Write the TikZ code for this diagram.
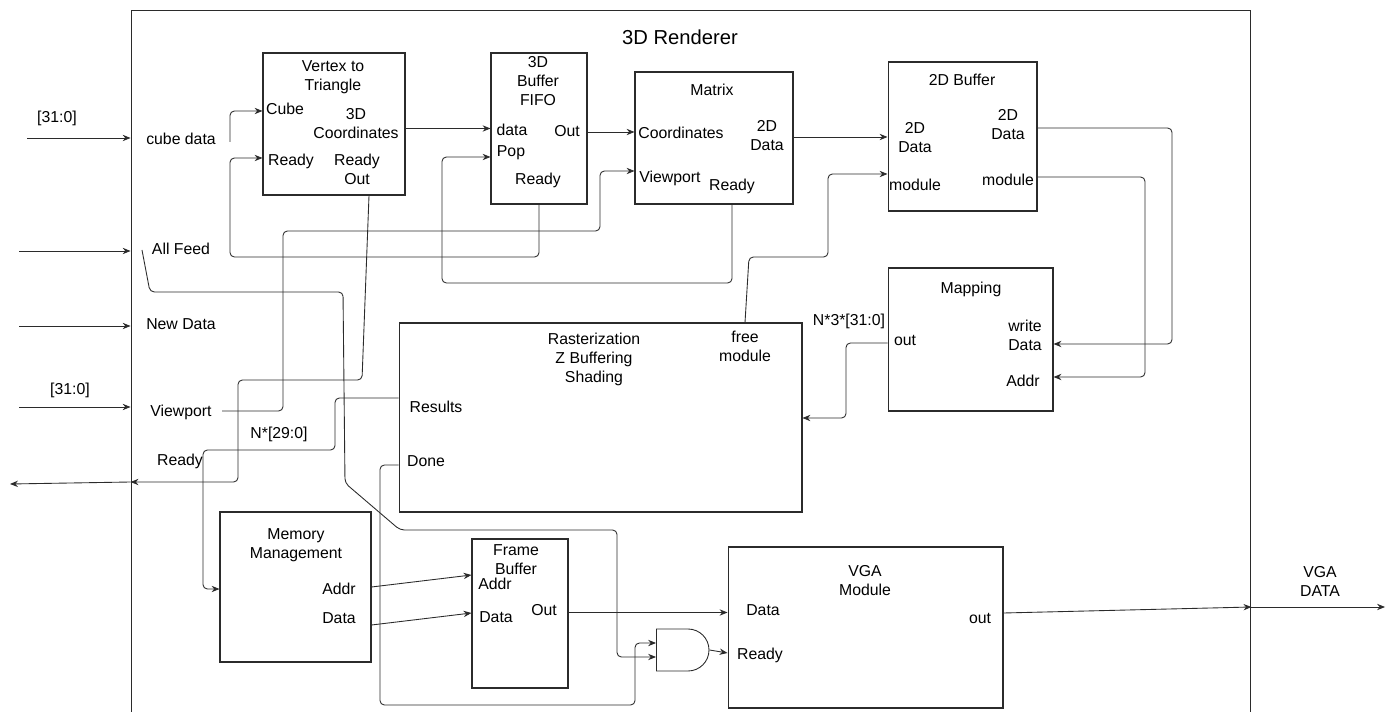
\documentclass[tikz,border=0pt]{standalone}
\usepackage{fontspec}
\setmainfont{Liberation Sans}
\usetikzlibrary{arrows.meta, calc, shapes.gates.logic.US}

\definecolor{wireblk}{HTML}{2B2B2B}

\begin{document}
\begin{tikzpicture}[x=0.02cm, y=-0.02cm,
  block/.style={draw=wireblk, line width=0.6pt, inner sep=0pt},
  lbl/.style={font=\fontsize{9}{10.8}\selectfont, inner sep=1pt, align=center},
  wire/.style={draw=wireblk, line width=0.5pt, rounded corners=2.5pt},
  arr/.style={wire, -{Stealth[length=4.5pt, width=3.6pt]}}]

\useasboundingbox (0,0) rectangle (1395,712);

%% Outer block
\node[block, minimum width=22.4cm, minimum height=14.4cm] (rend) at (691,370) {};
\node[lbl, font=\fontsize{11.5}{13}\selectfont] (rendT) at (680,37) {3D Renderer};

%% Blocks
\node[block, minimum width=2.84cm, minimum height=2.84cm] (vt) at (334,124) {};
\node[block, minimum width=1.92cm, minimum height=3.02cm] (fifo) at (539,128.5) {};
\node[block, minimum width=3.16cm, minimum height=2.64cm] (mat) at (714,138) {};
\node[block, minimum width=2.98cm, minimum height=2.98cm] (buf) at (962.5,136.5) {};
\node[block, minimum width=3.30cm, minimum height=2.86cm] (map) at (970.5,339.5) {};
\node[block, minimum width=8.06cm, minimum height=3.78cm] (rast) at (600.5,417.5) {};
\node[block, minimum width=3.02cm, minimum height=3.00cm] (mem) at (295.5,587) {};
\node[block, minimum width=1.92cm, minimum height=2.98cm] (fb) at (520,613.5) {};
\node[block, minimum width=5.50cm, minimum height=3.22cm] (vga) at (865.5,627.5) {};
\node[and gate US, draw=wireblk, line width=0.5pt, logic gate inputs=nn,
      minimum width=0.76cm, minimum height=0.84cm, inner sep=0pt] (andg) at (681,650) {};

%% Outside labels
\node[lbl] (busA) at (57,118) {[31:0]};
\node[lbl] (cubeL) at (181,139) {cube data};
\node[lbl] (feedL) at (181,249) {All Feed};
\node[lbl] (newL) at (181,324) {New Data};
\node[lbl] (busB) at (70,390) {[31:0]};
\node[lbl] (viewL) at (181,412) {Viewport};
\node[lbl] (rdyL) at (180,461) {Ready};
\node[lbl] (resBus) at (279,434) {N*[29:0]};
\node[lbl] (mapBus) at (849,321) {N*3*[31:0]};
\node[lbl] (vgaOutL) at (1320,581) {VGA\\DATA};

%% Vertex to Triangle
\node[lbl] (vtT) at (333,77) {Vertex to\\Triangle};
\node[lbl] (vtCube) at (285,109) {Cube};
\node[lbl] (vtRdy) at (291,161) {Ready};
\node[lbl] (vt3d) at (356,124) {3D\\Coordinates};
\node[lbl] (vtRdyOut) at (357,169) {Ready\\Out};

%% 3D Buffer FIFO
\node[lbl] (fifoT) at (538,81) {3D\\Buffer\\FIFO};
\node[lbl] (fifoD) at (512,130) {data};
\node[lbl] (fifoO) at (567,131) {Out};
\node[lbl] (fifoP) at (511,153) {Pop};
\node[lbl] (fifoR) at (538,180) {Ready};

%% Matrix
\node[lbl] (matT) at (712,90) {Matrix};
\node[lbl] (matC) at (681,133) {Coordinates};
\node[lbl] (matD) at (767,136) {2D\\Data};
\node[lbl] (matV) at (670,178) {Viewport};
\node[lbl] (matR) at (732,186) {Ready};

%% 2D Buffer
\node[lbl] (bufT) at (962,80) {2D Buffer};
\node[lbl] (bufDi) at (915,138) {2D\\Data};
\node[lbl] (bufDo) at (1008,125) {2D\\Data};
\node[lbl] (bufMi) at (915,185) {module};
\node[lbl] (bufMo) at (1008,180) {module};

%% Mapping
\node[lbl] (mapT) at (971,289) {Mapping};
\node[lbl] (mapW) at (1025,335) {write\\Data};
\node[lbl] (mapA) at (1023,381) {Addr};
\node[lbl] (mapO) at (905,340) {out};

%% Rasterization
\node[lbl] (rastT) at (594,359) {Rasterization\\Z Buffering\\Shading};
\node[lbl] (rastF) at (745,346) {free\\module};
\node[lbl] (rastR) at (436,407) {Results};
\node[lbl] (rastD) at (426,461) {Done};

%% Memory Management
\node[lbl] (memT) at (296,545) {Memory\\Management};
\node[lbl] (memA) at (339,589) {Addr};
\node[lbl] (memD) at (339,618) {Data};

%% Frame Buffer
\node[lbl] (fbT) at (516,560) {Frame\\Buffer};
\node[lbl] (fbA) at (495,584) {Addr};
\node[lbl] (fbD) at (496,617) {Data};
\node[lbl] (fbO) at (544,610) {Out};

%% VGA Module
\node[lbl] (vgaT) at (865,581) {VGA\\Module};
\node[lbl] (vgaD) at (763,610) {Data};
\node[lbl] (vgaR) at (760,655) {Ready};
\node[lbl] (vgaO) at (980,618) {out};

%% Free ends
\coordinate (inCube) at (27,138);
\coordinate (inFeed) at (19,251);
\coordinate (inNew) at (19,326);
\coordinate (inView) at (19,407);
\coordinate (outRdy) at (10,484);
\coordinate (outVga) at (1385,607);
\coordinate (cubeTap) at (230,142);
\coordinate (feedTap) at (142,250);
\coordinate (viewTap) at (222,411);

%% Top level ports
\draw[arr] (inCube) -- (rend.west |- inCube);
\draw[arr] (inFeed) -- (rend.west |- inFeed);
\draw[arr] (inNew) -- (rend.west |- inNew);
\draw[arr] (inView) -- (rend.west |- inView);
\draw[arr] (rend.west |- 0,482) -- (outRdy);
\draw[arr] (rend.east |- 0,607) -- (outVga);

%% Connections
\draw[arr] (cubeTap) |- (vt.west |- 0,111);
\draw[arr] (fifo.south) |- (230,257) |- (vt.west |- 0,158);
\draw[arr] (vt.east |- 0,128.5) -- (fifo.west |- 0,128.5);
\draw[arr] (fifo.east |- 0,132) -- (mat.west |- 0,132);
\draw[arr] (732,0 |- mat.south) |- (442,283) |- (fifo.west |- 0,157);
\draw[arr] (viewTap) -| (283,231) -| (600,171) -- (mat.west |- 0,171);
\draw[arr] (mat.east |- 0,137) -- (buf.west |- 0,137);
\draw[arr] (745,0 |- rast.north) -- (749,257) -| (828,174) -- (buf.west |- 0,174);
\draw[arr] (buf.east |- 0,128) -| (1172,344) -- (map.east |- 0,344);
\draw[arr] (buf.east |- 0,177) -| (1145,377) -- (map.east |- 0,377);
\draw[arr] (map.west |- 0,343) -| (846,418) -- (rast.east |- 0,418);
\draw[arr] (rast.west |- 0,398) -| (335,450) -| (203,589) -- (mem.west |- 0,589);
\draw[arr] (369,0 |- vt.south) -- (362,380) -| (238,482) -- (rend.west |- 0,482);
\draw[arr] (feedTap) -- (150,292) -- (343,292) -- (345,483) -- (400,530)
  -| (617,0 |- andg.input 2) -- (andg.input 2);
\draw[arr] (rast.west |- 0,465) -| (380,705) -| (635,0 |- andg.input 1) -- (andg.input 1);
\draw[arr] (andg.output) -- (vga.west |- 0,653);
\draw[arr] (mem.east |- 0,587) -- (fb.west |- 0,575);
\draw[arr] (mem.east |- 0,625) -- (fb.west |- 0,613);
\draw[arr] (fb.east |- 0,612.5) -- (vga.west |- 0,612.5);
\draw[arr] (vga.east |- 0,613) -- (rend.east |- 0,607);

\end{tikzpicture}
\end{document}
